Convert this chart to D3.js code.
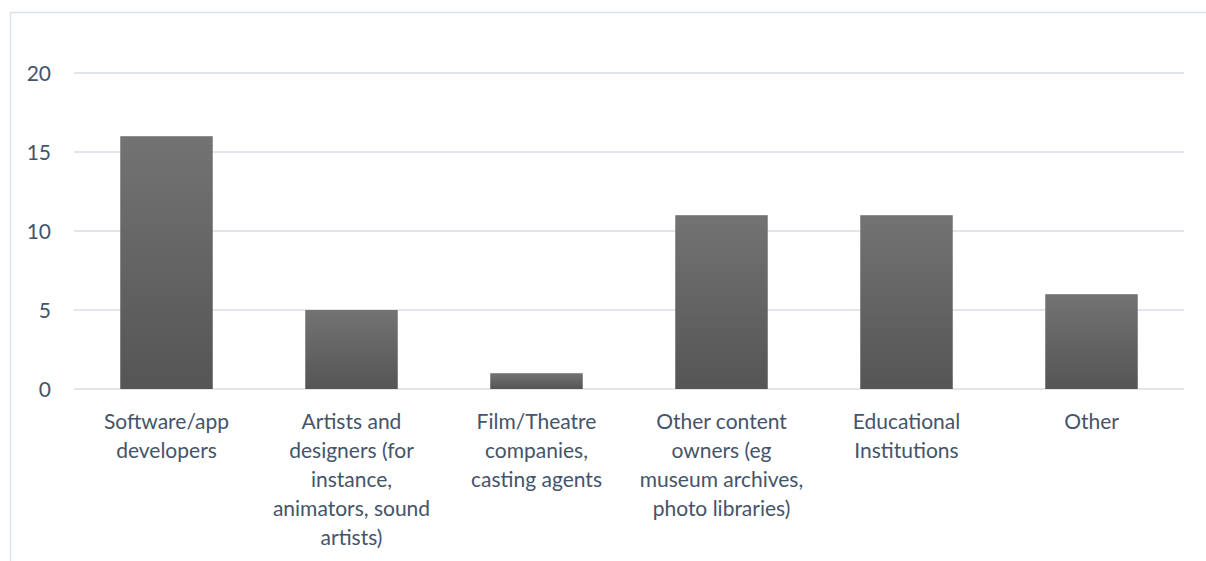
<!DOCTYPE html>
<html><head><meta charset="utf-8">
<script src="https://cdn.jsdelivr.net/npm/d3@7/dist/d3.min.js"></script>
<style>body{margin:0;background:#fff;} svg{display:block;}</style>
</head><body>
<svg id="c" width="1206" height="561"></svg>
<script>
const categories = [
  "Software/app\ndevelopers",
  "Artists and\ndesigners (for\ninstance,\nanimators, sound\nartists)",
  "Film/Theatre\ncompanies,\ncasting agents",
  "Other content\nowners (eg\nmuseum archives,\nphoto libraries)",
  "Educational\nInstitutions",
  "Other"
];
const values = [16, 5, 1, 11, 11, 6];
const yTicks = [0, 5, 10, 15, 20];

const svg = d3.select("#c");
const font = "Lato, 'Open Sans', sans-serif";
const textColor = "#44546a";
const gridColor = "#d9dde6";

svg.append("rect").attr("x", 10.5).attr("y", 12.5).attr("width", 1400).attr("height", 800)
  .attr("fill", "none").attr("stroke", "#dde1e8").attr("stroke-width", 1.5);

const defs = svg.append("defs");
const grad = defs.append("linearGradient").attr("id", "g").attr("x1", 0).attr("y1", 0).attr("x2", 0).attr("y2", 1);
grad.append("stop").attr("offset", "0%").attr("stop-color", "#737373");
grad.append("stop").attr("offset", "100%").attr("stop-color", "#555555");

const x = d3.scaleBand().domain(d3.range(categories.length)).range([74, 1184]).paddingInner(0.5).paddingOuter(0.25);
const y = d3.scaleLinear().domain([0, 20]).range([389, 73]);

svg.append("g").selectAll("line").data(yTicks).join("line")
  .attr("x1", 74).attr("x2", 1184).attr("y1", d => y(d)).attr("y2", d => y(d))
  .attr("stroke", gridColor).attr("stroke-width", 1.5);

svg.append("g").selectAll("text").data(yTicks).join("text")
  .attr("x", 51).attr("y", d => y(d)).attr("dy", "0.36em").attr("text-anchor", "end")
  .attr("font-family", font).attr("font-size", 21).attr("fill", textColor).text(d => d);

svg.append("g").selectAll("rect").data(values).join("rect")
  .attr("x", (d, i) => x(i)).attr("width", x.bandwidth())
  .attr("y", d => y(d)).attr("height", d => y(0) - y(d))
  .attr("fill", "url(#g)");

const lab = svg.append("g").selectAll("text").data(categories).join("text")
  .attr("text-anchor", "middle").attr("font-family", font).attr("font-size", 21).attr("fill", textColor);
lab.each(function(d, i) {
  const t = d3.select(this);
  d.split("\n").forEach((line, k) => {
    t.append("tspan").attr("x", x(i) + x.bandwidth() / 2).attr("y", 421 + k * 29).attr("dy", "0.36em").text(line);
  });
});
</script>
</body></html>
